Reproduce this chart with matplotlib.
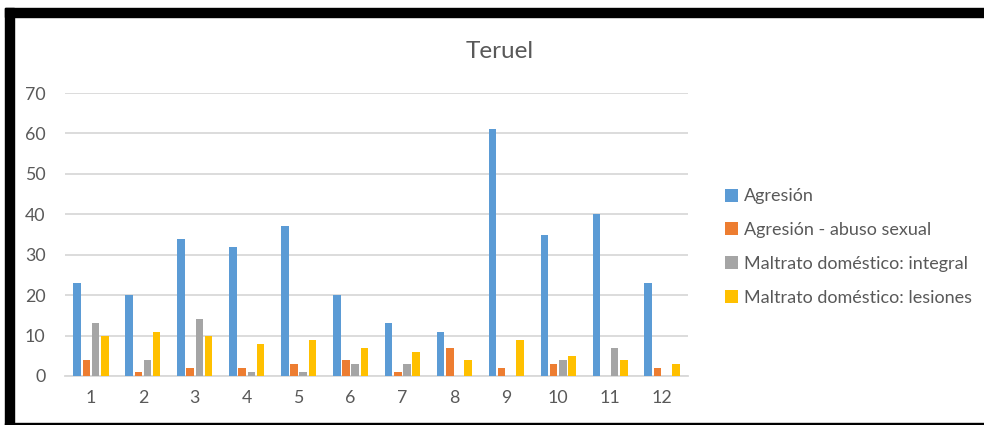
import numpy as np
import matplotlib.pyplot as plt
from matplotlib.patches import Patch, Rectangle

plt.rcParams['font.family'] = ['Lato', 'DejaVu Sans']

months = ['1', '2', '3', '4', '5', '6', '7', '8', '9', '10', '11', '12']
agresion = [23, 20, 34, 32, 37, 20, 13, 11, 61, 35, 40, 23]
abuso_sexual = [4, 1, 2, 2, 3, 4, 1, 7, 2, 3, 0, 2]
maltrato_integral = [13, 4, 14, 1, 1, 3, 3, 0, 0, 4, 7, 0]
maltrato_lesiones = [10, 11, 10, 8, 9, 7, 6, 4, 9, 5, 4, 3]

series = [agresion, abuso_sexual, maltrato_integral, maltrato_lesiones]
labels = ['Agresión', 'Agresión - abuso sexual',
          'Maltrato doméstico: integral', 'Maltrato doméstico: lesiones']
colors = ['#5B9BD5', '#ED7D31', '#A5A5A5', '#FFC000']
txt = '#595959'

W, H = 984, 425
fig = plt.figure(figsize=(W / 100, H / 100), dpi=100)
ax = fig.add_axes([65 / W, (H - 376) / H, (688 - 65) / W, (376 - 93) / H])

x = np.arange(len(months))
pitch = 0.177
width = 0.145
for i, (vals, col) in enumerate(zip(series, colors)):
    ax.bar(x + (i - 1.5) * pitch, vals, width, color=col, zorder=3)

ax.set_xlim(-0.5, len(months) - 0.5)
ax.set_ylim(0, 70)
ax.set_yticks(range(0, 71, 10))
ax.set_xticks(x)
ax.set_xticklabels(months)
ax.grid(axis='y', color='#D9D9D9', linewidth=1.3, zorder=0)
for s in ['top', 'right', 'left']:
    ax.spines[s].set_visible(False)
ax.spines['bottom'].set_color('#D9D9D9')
ax.spines['bottom'].set_linewidth(1.3)
ax.tick_params(axis='both', length=0, colors=txt, labelsize=12.8)
ax.tick_params(axis='y', pad=14)
ax.tick_params(axis='x', pad=10)

fig.text(500 / W, 1 - 51 / H, 'Teruel', ha='center', va='center',
         fontsize=17.5, color=txt)

handles = [Patch(facecolor=c, edgecolor='none') for c in colors]
leg = fig.legend(handles, labels, loc='center left',
                 bbox_to_anchor=(718 / W, 1 - 247 / H), frameon=False,
                 fontsize=13, handlelength=0.72, handleheight=0.72,
                 handletextpad=0.3, labelspacing=0.98, borderaxespad=0)
for t in leg.get_texts():
    t.set_color(txt)

# black screenshot frame
fig.patches.append(Rectangle((5 / W, 0), 9 / W, 1 - 8 / H, color='black',
                             transform=fig.transFigure, figure=fig))
fig.patches.append(Rectangle((5 / W, 1 - 17 / H), 1 - 5 / W, 9 / H,
                             color='black', transform=fig.transFigure, figure=fig))
fig.patches.append(Rectangle((5 / W, 0), 1 - 5 / W, 2 / H, color='black',
                             transform=fig.transFigure, figure=fig))

fig.savefig('out.png', dpi=100)
